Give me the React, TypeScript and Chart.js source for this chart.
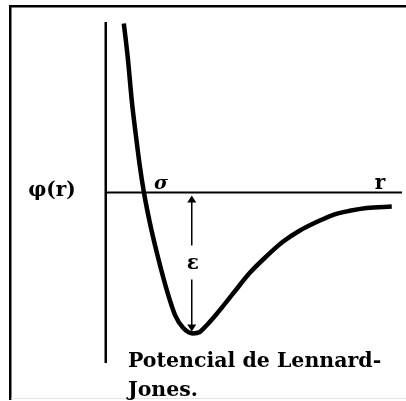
import React, { useEffect, useRef } from "react";
import { Chart, registerables } from "chart.js";

Chart.register(...registerables);

// Lennard-Jones potential sketch: r in units of sigma, phi in units of epsilon
const R_VALUES = [0.47, 0.58, 0.68, 0.79, 0.89, 1.0, 1.16, 1.37, 1.61, 1.82, 2.03, 2.29, 2.47, 2.66, 2.92, 3.34, 3.79, 4.24, 4.66, 5.11, 5.55, 5.97, 6.42, 6.87, 7.53];
const PHI_VALUES = [1.2, 0.94, 0.65, 0.4, 0.19, 0.0, -0.22, -0.46, -0.7, -0.87, -0.96, -1.0, -0.99, -0.94, -0.86, -0.72, -0.57, -0.45, -0.35, -0.27, -0.21, -0.16, -0.13, -0.11, -0.1];

const SIGMA = 1.0;
const EPSILON = 1.0;
const R_MIN = 2.26;

const X_RANGE = [0, 7.8];
const Y_RANGE = [-1.21, 1.21];

const AXIS_LABEL_Y = "φ(r)";
const AXIS_LABEL_X = "r";
const SIGMA_LABEL = "σ";
const EPSILON_LABEL = "ε";
const CAPTION_LINES = ["Potencial de Lennard-", "Jones."];

const FONT = '"DejaVu Serif", "Liberation Serif", serif';

const sketchPlugin = {
  id: "ljSketch",
  beforeDatasetsDraw(chart: any) {
    const { ctx, chartArea, scales } = chart;
    const xs = scales.x;
    const ys = scales.y;
    ctx.save();
    ctx.fillStyle = "#000";
    // outer frame (top and left edges)
    ctx.fillRect(9, 5, 397, 2.5);
    ctx.fillRect(9, 5, 2.5, 395);
    ctx.fillStyle = "#e4e4e4";
    ctx.fillRect(11, 398, 395, 1);
    // axes
    ctx.fillStyle = "#000";
    const x0 = xs.getPixelForValue(0);
    const y0 = ys.getPixelForValue(0);
    ctx.fillRect(x0 - 1.5, chartArea.top, 2.5, chartArea.bottom - chartArea.top);
    ctx.fillRect(x0, y0 - 1, chartArea.right - x0, 2);
    ctx.restore();
  },
  afterDatasetsDraw(chart: any) {
    const { ctx, scales } = chart;
    const xs = scales.x;
    const ys = scales.y;
    ctx.save();
    ctx.fillStyle = "#000";
    ctx.strokeStyle = "#000";

    // epsilon arrow from the r axis down to the well bottom
    const ax = xs.getPixelForValue(R_MIN);
    const yTop = ys.getPixelForValue(0) + 3;
    const yBot = ys.getPixelForValue(-EPSILON) - 2;
    const yEps = (yTop + yBot) / 2;
    ctx.lineWidth = 1.5;
    ctx.beginPath();
    ctx.moveTo(ax, yTop + 6);
    ctx.lineTo(ax, yEps - 18);
    ctx.moveTo(ax, yEps + 16);
    ctx.lineTo(ax, yBot - 6);
    ctx.stroke();
    ctx.beginPath();
    ctx.moveTo(ax, yTop);
    ctx.lineTo(ax - 4.5, yTop + 7);
    ctx.lineTo(ax + 4.5, yTop + 7);
    ctx.closePath();
    ctx.fill();
    ctx.beginPath();
    ctx.moveTo(ax, yBot);
    ctx.lineTo(ax - 4.5, yBot - 7);
    ctx.lineTo(ax + 4.5, yBot - 7);
    ctx.closePath();
    ctx.fill();

    ctx.textAlign = "center";
    ctx.textBaseline = "middle";
    ctx.font = `bold 20px ${FONT}`;
    ctx.fillText(EPSILON_LABEL, ax + 1, yEps);

    // sigma and r labels above the axis
    const yAx = ys.getPixelForValue(0);
    ctx.textBaseline = "alphabetic";
    ctx.font = `bold italic 19px ${FONT}`;
    ctx.fillText(SIGMA_LABEL, xs.getPixelForValue(SIGMA) + 17, yAx - 4);
    ctx.font = `bold 20px ${FONT}`;
    ctx.fillText(AXIS_LABEL_X, 380, yAx - 4);

    // potential label left of the axis
    ctx.font = `bold 20px ${FONT}`;
    ctx.fillText(AXIS_LABEL_Y, 52, yAx + 3);

    // caption
    ctx.textAlign = "left";
    ctx.font = `bold 20.5px ${FONT}`;
    ctx.fillText(CAPTION_LINES[0], 128, 367);
    ctx.fillText(CAPTION_LINES[1], 128, 396);
    ctx.restore();
  },
};

export default function App() {
  const canvasRef = useRef<HTMLCanvasElement | null>(null);

  useEffect(() => {
    if (!canvasRef.current) return;
    const chart = new Chart(canvasRef.current, {
      type: "scatter",
      data: {
        datasets: [
          {
            data: R_VALUES.map((r, i) => ({ x: r, y: PHI_VALUES[i] })),
            showLine: true,
            borderColor: "#000",
            borderWidth: 4.5,
            pointRadius: 0,
            cubicInterpolationMode: "monotone",
            borderCapStyle: "butt",
            borderJoinStyle: "round",
          } as any,
        ],
      },
      options: {
        responsive: false,
        animation: false,
        layout: { padding: { left: 106, right: 4, top: 22, bottom: 38 } },
        scales: {
          x: { type: "linear", min: X_RANGE[0], max: X_RANGE[1], display: false },
          y: { type: "linear", min: Y_RANGE[0], max: Y_RANGE[1], display: false },
        },
        plugins: { legend: { display: false }, tooltip: { enabled: false } },
      },
      plugins: [sketchPlugin],
    });
    return () => chart.destroy();
  }, []);

  return (
    <div style={{ position: "fixed", left: 0, top: 0, width: 406, height: 401, background: "#fff" }}>
      <canvas ref={canvasRef} width={406} height={401} style={{ display: "block" }} />
    </div>
  );
}
